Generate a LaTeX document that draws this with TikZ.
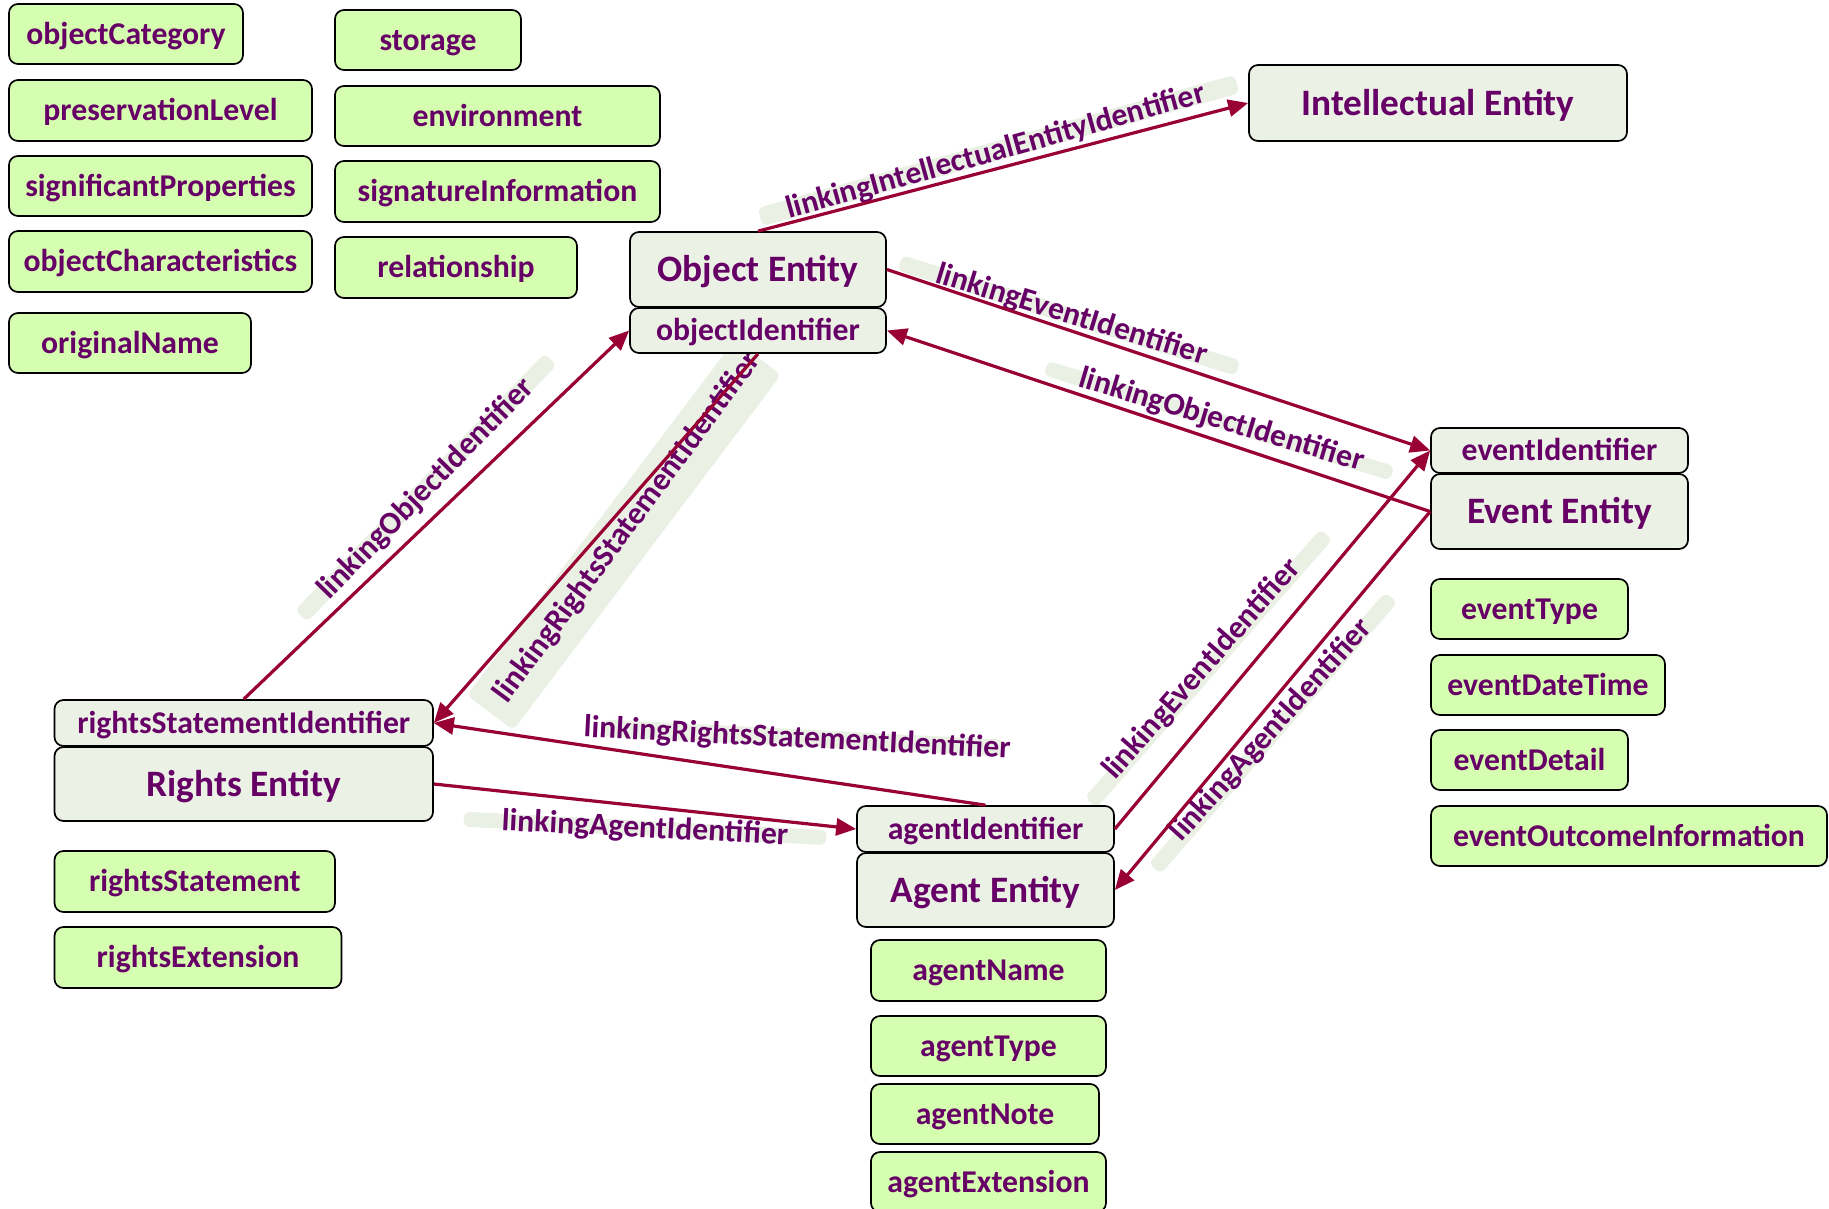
\documentclass[tikz,border=0pt]{standalone}
\usepackage{fontspec}
\setmainfont{Carlito}
\usetikzlibrary{arrows.meta}

\definecolor{txt}{RGB}{102,0,102}
\definecolor{arr}{RGB}{153,0,51}
\definecolor{entfill}{RGB}{235,241,229}
\definecolor{attfill}{RGB}{214,254,176}
\definecolor{bandfill}{RGB}{234,240,228}

\tikzset{
  box/.style={draw=black, line width=1.7pt, rounded corners=9pt, text=txt,
    font=\bfseries\fontsize{31.7}{36}\selectfont, inner sep=0pt,
    text height=20.4pt, text depth=0pt},
  attr/.style={box, fill=attfill},
  ident/.style={box, fill=entfill},
  entity/.style={box, fill=entfill, font=\bfseries\fontsize{37.3}{42}\selectfont,
    text height=24pt},
  band/.style={fill=bandfill, rounded corners=6pt, inner sep=0pt, minimum height=#1},
  link/.style={text=txt, font=\bfseries\fontsize{31.7}{36}\selectfont, inner sep=0pt, anchor=base},
  conn/.style={draw=arr, line width=3.2pt, -{Triangle[length=20pt,width=17pt]}},
}

\begin{document}
\begin{tikzpicture}[x=1pt,y=-1pt]
\useasboundingbox (0,0) rectangle (1829,1208);
\clip (0,0) rectangle (1829,1208);

% label backdrops
\node[band=19pt, minimum width=495pt, rotate=15.6]  (bA) at (998.5,150.5) {};
\node[band=16pt, minimum width=354pt, rotate=-17.3] (bB) at (1069,315.5) {};
\node[band=15pt, minimum width=362pt, rotate=-16.9] (bC) at (1219,420.7) {};
\node[band=17pt, minimum width=358pt, rotate=45.8]  (bD) at (425.8,487.7) {};
\node[band=58pt, minimum width=445pt, rotate=53]    (bE) at (624,535) {};
\node[band=17pt, minimum width=400pt, rotate=-2.9]  (bF) at (803,738) {};
\node[band=15pt, minimum width=363pt, rotate=-2.9]  (bG) at (645,828.4) {};
\node[band=16pt, minimum width=357pt, rotate=48.7]  (bH) at (1208.5,668.5) {};
\node[band=16pt, minimum width=360pt, rotate=48.9]  (bI) at (1273,733) {};

% link labels
\node[link, rotate=15.6]  (lA) at (998,160.3)    {linkingIntellectualEntityIdentifier};
\node[link, rotate=-17]   (lB) at (1069,323.5)   {linkingEventIdentifier};
\node[link, rotate=-16.6] (lC) at (1219,428.7)   {linkingObjectIdentifier};
\node[link, rotate=45.7]  (lD) at (432.5,495)    {linkingObjectIdentifier};
\node[link, rotate=53.5]  (lE) at (634.2,532.5)  {linkingRightsStatementIdentifier};
\node[link, rotate=-2.9]  (lF) at (796.7,747.5)  {linkingRightsStatementIdentifier};
\node[link, rotate=-2.9]  (lG) at (644.5,837.5)  {linkingAgentIdentifier};
\node[link, rotate=48.7]  (lH) at (1208.3,675)   {linkingEventIdentifier};
\node[link, rotate=48.2]  (lI) at (1277.5,735.8) {linkingAgentIdentifier};

% object attributes
\node[attr, minimum width=234pt, minimum height=60pt] (objcat)   at (126,34)      {objectCategory};
\node[attr, minimum width=303pt, minimum height=61pt] (preslvl)  at (160.5,110.5) {preservationLevel};
\node[attr, minimum width=303pt, minimum height=60pt] (sigprop)  at (160.5,186)   {significantProperties};
\node[attr, minimum width=303pt, minimum height=61pt] (objchar)  at (160.5,261.5) {objectCharacteristics};
\node[attr, minimum width=242pt, minimum height=60pt] (origname) at (130,343)     {originalName};
\node[attr, minimum width=186pt, minimum height=60pt] (storage)  at (428,40)      {storage};
\node[attr, minimum width=325pt, minimum height=60pt] (environ)  at (497.5,116)   {environment};
\node[attr, minimum width=325pt, minimum height=61pt] (siginfo)  at (497.5,191.5) {signatureInformation};
\node[attr, minimum width=242pt, minimum height=61pt] (relation) at (456,267.5)   {relationship};

% object entity
\node[entity, minimum width=256pt, minimum height=75pt] (objent) at (758,269.5) {Object Entity};
\node[ident,  minimum width=256pt, minimum height=45pt] (objid)  at (758,330.5) {objectIdentifier};

% intellectual entity
\node[entity, minimum width=378pt, minimum height=76pt] (intel) at (1438,103) {Intellectual Entity};

% event entity
\node[ident,  minimum width=257pt, minimum height=45pt] (evid) at (1559.5,450.5) {eventIdentifier};
\node[entity, minimum width=257pt, minimum height=75pt] (evt)  at (1559.5,511.5) {Event Entity};
\node[attr, minimum width=197pt, minimum height=60pt] (evtype) at (1529.5,609) {eventType};
\node[attr, minimum width=234pt, minimum height=60pt] (evdt)   at (1548,685)   {eventDateTime};
\node[attr, minimum width=197pt, minimum height=60pt] (evdet)  at (1529.5,760) {eventDetail};
\node[attr, minimum width=396pt, minimum height=60pt] (evout)  at (1629,836)   {eventOutcomeInformation};

% rights entity
\node[ident,  minimum width=378.5pt, minimum height=46pt] (rsid)   at (243.75,723) {rightsStatementIdentifier};
\node[entity, minimum width=378.5pt, minimum height=74pt] (rights) at (243.75,784) {Rights Entity};
\node[attr, minimum width=280.5pt, minimum height=61pt] (rstmt) at (194.75,881.5) {rightsStatement};
\node[attr, minimum width=287pt,   minimum height=61pt] (rext)  at (198,957.5)    {rightsExtension};

% agent entity
\node[ident,  minimum width=257pt, minimum height=46pt] (agid)  at (985.5,829) {agentIdentifier};
\node[entity, minimum width=257pt, minimum height=74pt] (agent) at (985.5,890) {Agent Entity};
\node[attr, minimum width=235pt, minimum height=61pt] (agname) at (988.5,970.5) {agentName};
\node[attr, minimum width=235pt, minimum height=60pt] (agtype) at (988.5,1046)  {agentType};
\node[attr, minimum width=228pt, minimum height=60pt] (agnote) at (985,1114)    {agentNote};
\node[attr, minimum width=235pt, minimum height=60pt] (agext)  at (988.5,1182)  {agentExtension};

% links between entities
\draw[conn] (objent.north) -- (intel.west);
\draw[conn] (objent.east) -- (evid.west);
\draw[conn] (evt.west) -- (objid.east);
\draw[conn] (rsid.north) -- (objid.west);
\draw[conn] (objid.south) -- (rsid.east);
\draw[conn] (agid.north) -- (rsid.east);
\draw[conn] (rights.east) -- (agid.west);
\draw[conn] (agid.east) -- (evid.west);
\draw[conn] (evt.west) -- (agent.east);
\end{tikzpicture}
\end{document}
